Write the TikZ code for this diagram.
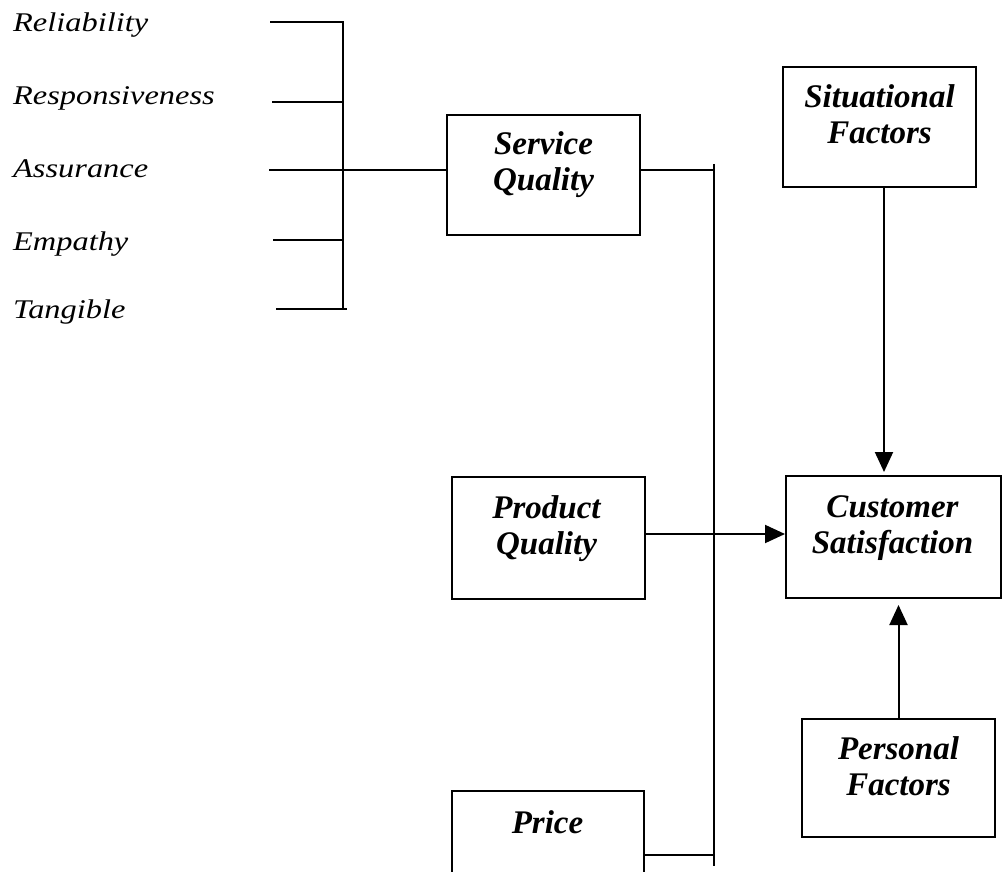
\documentclass[tikz,border=0pt]{standalone}
\usepackage{fontspec}
\setmainfont{Liberation Serif}
\newfontfamily\labelfont{Liberation Serif}[FakeStretch=1.2]
\usetikzlibrary{arrows.meta}

\tikzset{
  wire/.style={line width=2pt},
  arr/.style={wire, -{Triangle[length=20pt,width=18pt]}},
  box/.style={draw, line width=2pt, rectangle, inner sep=0pt},
  boxtext/.style={font=\fontsize{33}{36}\selectfont\bfseries\itshape,
                  align=center, inner sep=0pt, anchor=north},
  dimtext/.style={font=\labelfont\fontsize{27}{30}\selectfont\itshape,
                  inner sep=0pt, anchor=base west}
}

\begin{document}
\begin{tikzpicture}[x=1pt,y=-1pt]
\clip (0,0) rectangle (1002,872);
\fill[white] (0,0) rectangle (1002,872);

% service quality dimensions
\node[dimtext] (rel) at (13,32)  {Reliability};
\node[dimtext] (res) at (13,105) {Responsiveness};
\node[dimtext] (ass) at (13,178) {Assurance};
\node[dimtext] (emp) at (13,250) {Empathy};
\node[dimtext] (tan) at (13,318) {Tangible};

% boxes
\node[box, minimum width=193pt, minimum height=120pt] (SQ) at (543.5,175) {};
\node[box, minimum width=193pt, minimum height=120pt] (SF) at (879.5,127) {};
\node[box, minimum width=215pt, minimum height=122pt] (CS) at (893.5,537) {};
\node[box, minimum width=193pt, minimum height=122pt] (PQ) at (548.5,538) {};
\node[box, minimum width=193pt, minimum height=118pt] (PF) at (898.5,778) {};
\node[box, minimum width=192pt, minimum height=108pt] (PR) at (548,845) {};

% box captions
\node[boxtext] (SQt) at (543.5,131) {Service\\Quality};
\node[boxtext] (SFt) at (879.5,84)  {Situational\\Factors};
\node[boxtext] (CSt) at (892.5,495) {Customer\\Satisfaction};
\node[boxtext] (PQt) at (546.5,495) {Product\\Quality};
\node[boxtext] (PFt) at (898.5,736) {Personal\\Factors};
\node[boxtext] (PRt) at (547.5,810) {Price};

% bracket joining the five dimensions
\coordinate (r1) at (270,22);
\coordinate (r2) at (272,102);
\coordinate (r3) at (269,170);
\coordinate (r4) at (273,240);
\coordinate (r5) at (276,309);
\coordinate (bt) at (343,22);
\coordinate (bb) at (343,309);
\draw[wire] (r1) -- (bt) -- (bb);
\draw[wire] (r5) -- ([xshift=4pt]bb);
\draw[wire] (r2) -- (r2 -| bt);
\draw[wire] (r4) -- (r4 -| bt);
\draw[wire] (r3) -- (r3 -| SQ.west);

% collector line on the right of the quality boxes
\coordinate (ct) at (714,164);
\coordinate (cb) at (714,866);
\draw[wire] (ct) -- (cb);
\draw[wire] (r3 -| SQ.east) -- (r3 -| ct);
\draw[wire] ([yshift=-10pt]PR.east) -- ([yshift=-10pt]PR.east -| ct);

% arrows into customer satisfaction
\draw[arr] ([yshift=4pt]PQ.east) -- ([yshift=4pt]PQ.east -| CS.west);
\draw[arr, shorten >=3pt] ([xshift=4.5pt]SF.south) -- ([xshift=4.5pt]SF.south |- CS.north);
\draw[arr, shorten >=6pt] (PF.north) -- (PF.north |- CS.south);
\end{tikzpicture}
\end{document}
